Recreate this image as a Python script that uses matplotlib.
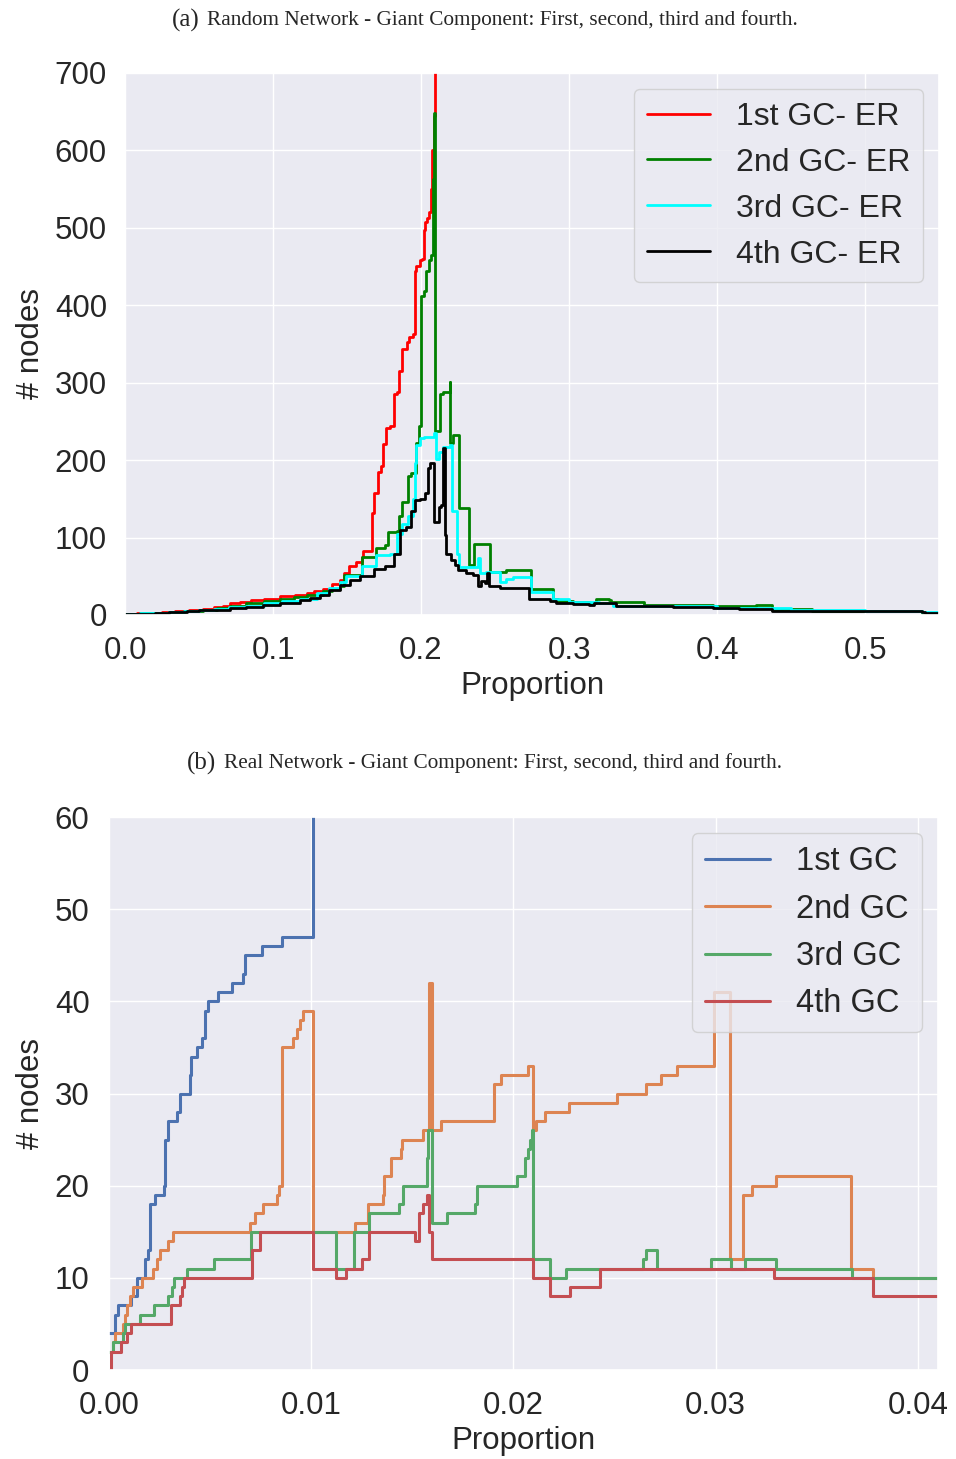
import matplotlib
matplotlib.use("Agg")
import matplotlib.pyplot as plt
import seaborn as sns

# ---- (a) random network, ER ----
er1_x = [0.0, 0.008, 0.016, 0.025, 0.034, 0.043, 0.053, 0.06, 0.066, 0.071, 0.078, 0.085, 0.094, 0.105,
         0.115, 0.1226, 0.128, 0.134, 0.140, 0.145,
         0.1479, 0.1515, 0.1563, 0.1598, 0.161, 0.167, 0.1682, 0.1706, 0.173, 0.1742, 0.1766, 0.179,
         0.1814, 0.1837, 0.1849, 0.1873, 0.1902, 0.1921, 0.1945, 0.1957, 0.1969, 0.1993, 0.2005, 0.2017,
         0.2029, 0.2041, 0.2053, 0.2065, 0.2076, 0.2088, 0.2092, 0.55]
er1_y = [1, 2, 3, 4, 5, 6, 8, 10, 12, 15, 17, 19, 21, 24,
         26, 29, 31, 34, 40, 45,
         54, 63, 68, 75, 82, 132, 157, 185, 192, 221, 242, 244,
         285, 288, 315, 343, 352, 359, 363, 444, 451, 458, 460, 497,
         508, 513, 520, 550, 600, 645, 1000, 1000]

er2_x = [0.0, 0.01, 0.02, 0.03, 0.04, 0.053, 0.062, 0.071, 0.082, 0.094, 0.105, 0.114, 0.1226, 0.134,
         0.14, 0.145, 0.1479, 0.1598, 0.1694,
         0.1754, 0.1778, 0.1837, 0.1849, 0.1873, 0.1909, 0.1933, 0.1969, 0.1988, 0.1998, 0.2022,
         0.2036, 0.2053, 0.2065, 0.2081, 0.2088, 0.2095, 0.2125, 0.2148, 0.2193, 0.2198, 0.2216,
         0.2256, 0.2324, 0.2355, 0.2463, 0.2576, 0.2745, 0.2891, 0.2925, 0.3025, 0.3137, 0.3183,
         0.3273, 0.3284, 0.3509, 0.3767, 0.397, 0.4262, 0.4352, 0.4374, 0.4442, 0.4644, 0.5385, 0.55]
er2_y = [1, 2, 3, 4, 5, 7, 9, 12, 15, 18, 21, 23, 26, 31,
         34, 38, 52, 75, 86,
         91, 107, 109, 128, 146, 180, 183, 222, 244, 412, 419,
         444, 458, 465, 563, 648, 237, 286, 288, 301, 222, 233,
         138, 64, 92, 56, 58, 33, 20, 18.5, 17, 15, 20,
         19, 17, 13, 12.6, 11.4, 12.5, 13.3, 7, 8.3, 5.6, 3, 3]

er3_x = [0.0, 0.01, 0.02, 0.03, 0.04, 0.05, 0.06, 0.07, 0.082, 0.094, 0.106, 0.118, 0.13, 0.138,
         0.145, 0.1491, 0.1598, 0.1694, 0.179, 0.1837, 0.1873,
         0.1909, 0.1945, 0.1957, 0.1969, 0.1993, 0.2017, 0.2088, 0.21, 0.2124, 0.2148, 0.2196,
         0.2210, 0.2243, 0.2255, 0.2384, 0.2395, 0.2440, 0.2530, 0.2576, 0.2620, 0.2745, 0.2891,
         0.30, 0.32, 0.33, 0.36, 0.40, 0.45, 0.50, 0.5385, 0.55]
er3_y = [1, 2, 3, 4, 5, 6, 8, 10, 12, 15, 18, 21, 28, 35,
         42, 50, 63, 77, 79, 105, 118,
         128, 150, 196, 219, 228, 230, 235, 201, 210, 217, 219,
         134, 79, 62, 73, 54, 56, 43, 47, 49, 30, 20,
         17, 15, 12, 11, 9, 7, 5.5, 4, 4]

er4_x = [0.0, 0.01, 0.02, 0.03, 0.0416, 0.05, 0.06, 0.0709, 0.082, 0.0934, 0.105, 0.1181, 0.125,
         0.1315, 0.138, 0.145, 0.1518, 0.1585, 0.1682, 0.1754, 0.1814,
         0.1856, 0.19, 0.1935, 0.1957, 0.1991, 0.2025, 0.2047, 0.2058, 0.2085, 0.212, 0.2136, 0.2148,
         0.2159, 0.217, 0.2204, 0.2227, 0.2249, 0.2305, 0.235, 0.2384, 0.2406, 0.2429, 0.2444, 0.2458,
         0.2530, 0.2732, 0.2868, 0.2913, 0.3025, 0.3137, 0.3171, 0.3318, 0.37, 0.397, 0.415, 0.4374,
         0.5385, 0.5408, 0.55]
er4_y = [1, 1.8, 2.6, 3.6, 5, 6, 7, 8.5, 10.5, 13, 16, 19.4, 22,
         26, 32, 39, 45, 50, 59, 63, 79,
         110, 114, 134, 148, 150, 157, 190, 196, 120, 140, 142, 215,
         103, 79, 71, 65, 58, 54, 52, 37, 44, 41, 54, 37,
         35, 20, 18.5, 15, 14, 13.3, 15, 11.4, 10, 8.7, 7.3, 5.6,
         4.4, 2.2, 2.2]

# ---- (b) real network ----
gc1_x = [0.0, 0.0003, 0.00046, 0.00107, 0.00137, 0.0018, 0.00194, 0.00203, 0.00227, 0.00272, 0.00277,
         0.00293, 0.00334, 0.0035, 0.0040, 0.00408, 0.00433, 0.00458, 0.00474, 0.0049, 0.0054, 0.0061,
         0.00664, 0.00672, 0.00755, 0.00854, 0.0101, 0.041]
gc1_y = [4, 6, 7, 8, 10, 12, 13, 18, 19, 20, 25,
         27, 28, 30, 32, 34, 35, 36, 39, 40, 41, 42,
         43, 45, 46, 47, 100, 100]

gc2_x = [0.0, 0.0002, 0.0003, 0.00071, 0.0008, 0.00087, 0.00104, 0.0012, 0.00162, 0.00219, 0.00236,
         0.00252, 0.00293, 0.00318, 0.00697, 0.00722, 0.00763, 0.0083, 0.0084, 0.00856, 0.00911,
         0.00928, 0.00944, 0.0096, 0.0101, 0.01216, 0.0128, 0.01356, 0.0136, 0.01397, 0.01442,
         0.01447, 0.01551, 0.01583, 0.01595, 0.01641, 0.01903, 0.01941, 0.02073, 0.02097, 0.02114,
         0.02155, 0.02275, 0.0251, 0.02655, 0.0273, 0.0281, 0.0299, 0.0307, 0.03136, 0.0318,
         0.0330, 0.0367, 0.03778, 0.041]
gc2_y = [2, 3, 4, 5, 6, 7, 8, 9, 10, 11, 12,
         13, 14, 15, 16, 17, 18, 19, 20, 35, 36,
         37, 38, 39, 15, 16, 18, 19, 21, 23, 24,
         25, 26, 42, 26, 27, 31, 32, 33, 26, 27,
         28, 29, 30, 31, 32, 33, 41, 12, 19, 20,
         21, 11, 10, 10]

gc3_x = [0.0, 0.00018, 0.0007, 0.0008, 0.00153, 0.00222, 0.00293, 0.0031, 0.00321, 0.00387, 0.0052,
         0.0070, 0.01125, 0.0121, 0.01287, 0.01435, 0.01455, 0.01574, 0.0158, 0.01597, 0.01673,
         0.0181, 0.01821, 0.02019, 0.02057, 0.0207, 0.02081, 0.0209, 0.02098, 0.0218, 0.0226,
         0.02641, 0.02658, 0.0271, 0.02979, 0.03078, 0.03144, 0.03297, 0.03676, 0.041]
gc3_y = [2, 3, 4, 5, 6, 7, 8, 9, 10, 11, 12,
         15, 11, 15, 17, 18, 20, 23, 26, 16, 17,
         18, 20, 21, 23, 24, 25, 26, 12, 10, 11,
         12, 13, 11, 12, 11, 12, 11, 10, 10]

gc4_x = [0.0, 0.00008, 0.00057, 0.00087, 0.00107, 0.00309, 0.0035, 0.00359, 0.0037, 0.00705, 0.00746,
         0.0101, 0.01125, 0.01171, 0.01249, 0.01287, 0.01513, 0.01535, 0.01554, 0.01571, 0.01584,
         0.01595, 0.02098, 0.0218, 0.0228, 0.0243, 0.0329, 0.03779, 0.041]
gc4_y = [0, 2, 3, 4, 5, 7, 8, 9, 10, 13, 15,
         11, 10, 11, 12, 15, 14, 17, 18, 19, 15,
         12, 10, 8, 9, 11, 10, 8, 8]

sns.set_theme(style="darkgrid")
plt.rcParams['font.family'] = ['Liberation Sans', 'DejaVu Sans']

fig = plt.figure(figsize=(9.56, 14.59), dpi=100)

cap_font = ['Liberation Serif', 'DejaVu Serif']
fig.text(0.209, 0.986, "(a)", ha='right', va='center', fontsize=18, family=cap_font)
fig.text(0.2165, 0.986, "Random Network - Giant Component: First, second, third and fourth.",
         ha='left', va='center', fontsize=15.3, family=cap_font)
fig.text(0.226, 0.477, "(b)", ha='right', va='center', fontsize=18, family=cap_font)
fig.text(0.234, 0.477, "Real Network - Giant Component: First, second, third and fourth.",
         ha='left', va='center', fontsize=15.3, family=cap_font)

ax1 = fig.add_axes([0.1308, 0.5785, 0.8515, 0.3715])
ax1.plot(er1_x, er1_y, drawstyle='steps-post', color='red', lw=2, label='1st GC- ER')
ax1.plot(er2_x, er2_y, drawstyle='steps-post', color='green', lw=2, label='2nd GC- ER')
ax1.plot(er3_x, er3_y, drawstyle='steps-post', color='cyan', lw=2, label='3rd GC- ER')
ax1.plot(er4_x, er4_y, drawstyle='steps-post', color='black', lw=2, label='4th GC- ER')
ax1.set_xlim(0, 0.55)
ax1.set_ylim(0, 700)
ax1.set_xticks([0.0, 0.1, 0.2, 0.3, 0.4, 0.5])
ax1.set_xticklabels(['0.0', '0.1', '0.2', '0.3', '0.4', '0.5'])
ax1.tick_params(axis='x', labelsize=22.5, pad=9)
ax1.tick_params(axis='y', labelsize=22.5, pad=7)
ax1.set_xlabel('Proportion', fontsize=22.5)
ax1.set_ylabel('# nodes', fontsize=22.5, labelpad=6)
ax1.legend(loc='upper right', fontsize=23)

ax2 = fig.add_axes([0.114, 0.061, 0.8672, 0.379])
ax2.plot(gc1_x, gc1_y, drawstyle='steps-post', lw=2.2, label='1st GC')
ax2.plot(gc2_x, gc2_y, drawstyle='steps-post', lw=2.2, label='2nd GC')
ax2.plot(gc3_x, gc3_y, drawstyle='steps-post', lw=2.2, label='3rd GC')
ax2.plot(gc4_x, gc4_y, drawstyle='steps-post', lw=2.2, label='4th GC')
ax2.set_xlim(0, 0.041)
ax2.set_ylim(0, 60)
ax2.set_xticks([0.0, 0.01, 0.02, 0.03, 0.04])
ax2.set_xticklabels(['0.00', '0.01', '0.02', '0.03', '0.04'])
ax2.tick_params(axis='x', labelsize=22.5, pad=9)
ax2.tick_params(axis='y', labelsize=22.5, pad=8)
ax2.set_xlabel('Proportion', fontsize=22.5)
ax2.set_ylabel('# nodes', fontsize=22.5, labelpad=6)
ax2.legend(loc='upper right', fontsize=23.5)

fig.savefig("out.png", dpi=100)
